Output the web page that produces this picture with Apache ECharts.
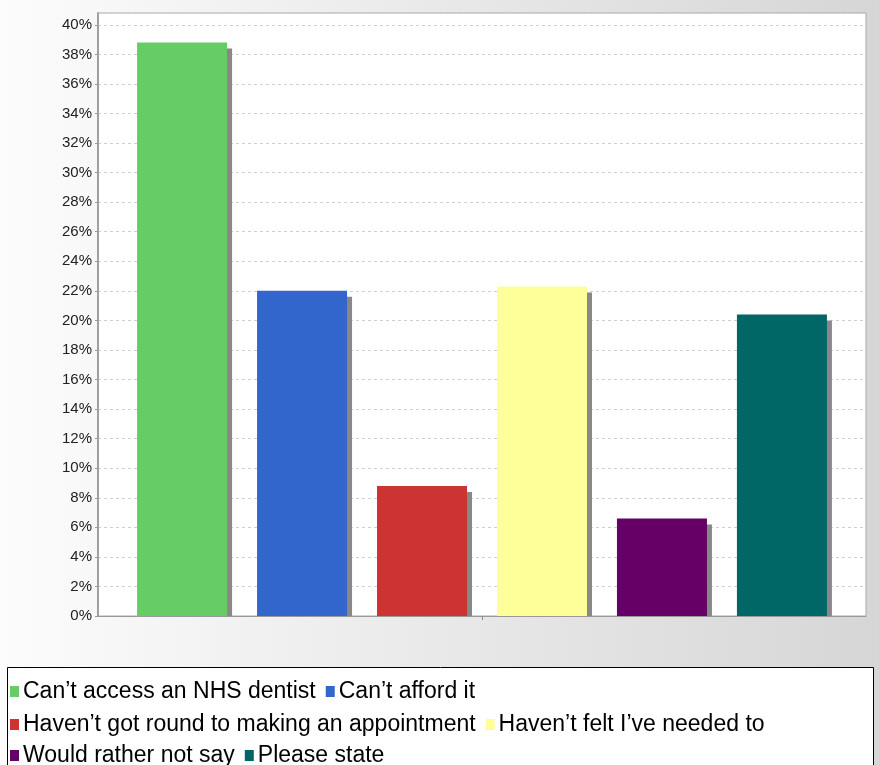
<!DOCTYPE html>
<html><head><meta charset="utf-8">
<script src="https://cdn.jsdelivr.net/npm/echarts@6/dist/echarts.min.js"></script>
<style>html,body{margin:0;padding:0;background:#fff}#c{width:879px;height:765px}</style>
</head><body><div id="c"></div>
<script>
const categories = [''];
const seriesNames = ["Can’t access an NHS dentist", "Can’t afford it", "Haven’t got round to making an appointment", "Haven’t felt I’ve needed to", "Would rather not say", "Please state"];
const seriesValues = [38.8, 22.0, 8.8, 22.3, 6.6, 20.4];
const seriesColors = ['#66cc66', '#3366cc', '#cc3333', '#ffff99', '#660066', '#006666'];
const yTickValues = [0, 2, 4, 6, 8, 10, 12, 14, 16, 18, 20, 22, 24, 26, 28, 30, 32, 34, 36, 38, 40];
const legendRows = [[0, 1], [2, 3], [4, 5]];

const bgGrad = () => ({type: 'linear', global: true, x: 0, y: 0, x2: 879, y2: 0,
  colorStops: [{offset: 0, color: '#fcfcfc'}, {offset: 1, color: '#d6d6d6'}]});

const chart = echarts.init(document.getElementById('c'));
const font = "'Liberation Sans', Arial, sans-serif";
const rowTops = [675, 708, 739];

chart.setOption({
  animation: false,
  backgroundColor: bgGrad(),
  grid: {left: 98, right: 13, top: 13, bottom: 149, show: true, backgroundColor: '#ffffff', borderColor: '#aaaaaa', borderWidth: 1},
  xAxis: {
    type: 'category', data: categories, z: 10,
    axisLine: {show: true, lineStyle: {color: '#999999', width: 1}},
    axisTick: {show: true, alignWithLabel: true, length: 4, lineStyle: {color: '#888888'}},
    axisLabel: {show: false},
    splitLine: {show: false}
  },
  yAxis: {
    type: 'value', min: 0, max: 40.8, interval: 2,
    axisLine: {show: true, lineStyle: {color: '#a0a0a0', width: 2}},
    axisTick: {show: true, length: 3, lineStyle: {color: '#999999'}},
    axisLabel: {
      margin: 6, fontSize: 15, color: '#222222', fontFamily: font, showMaxLabel: false,
      formatter: v => yTickValues.indexOf(Math.round(v * 10) / 10) >= 0 ? v + '%' : ''
    },
    splitLine: {show: true, lineStyle: {color: '#d0d0d0', type: [3, 3], width: 1}}
  },
  legend: legendRows.map((row, i) => ({
    data: row.map(k => seriesNames[k]),
    left: 5, top: rowTops[i], orient: 'horizontal', z: 4,
    icon: 'rect', itemWidth: 9, itemHeight: 11, itemGap: 10,
    selectedMode: false,
    textStyle: {fontSize: 23, color: '#000000', fontFamily: font, padding: [0, 0, 0, -1]}
  })),
  graphic: [
    {type: 'rect', z: 1, shape: {x: 7.5, y: 667.5, width: 866, height: 120},
     style: {fill: '#ffffff', stroke: '#000000', lineWidth: 1}},
    {type: 'rect', z: 5, shape: {x: 99, y: 617, width: 780, height: 9},
     style: {fill: bgGrad()}}
  ],
  series: seriesNames.map((name, i) => ({
    name: name, type: 'bar', data: [seriesValues[i]],
    barWidth: 90, barGap: '33.3%',
    itemStyle: {color: seriesColors[i], shadowColor: '#888888', shadowOffsetX: 5, shadowOffsetY: 6, shadowBlur: 0},
    emphasis: {disabled: true}
  }))
});
</script></body></html>
